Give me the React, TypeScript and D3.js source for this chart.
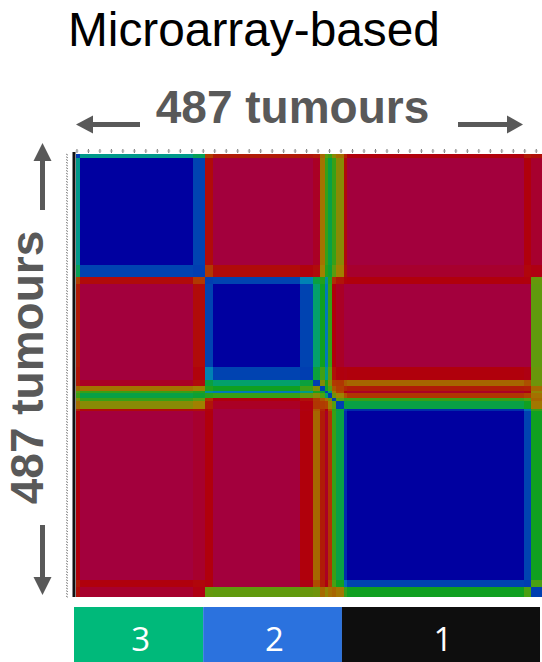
import React from "react";
import * as d3 from "d3";

// ---- Data -------------------------------------------------------------
// Ordered sample segments of the 487 tumours (consensus-matrix order)
const segNames = ["A", "B", "C", "D", "E", "F", "G", "H", "I", "J", "K", "L", "M0", "M", "N", "O"];
const segSizes = [4, 118, 13, 8, 91, 14, 7, 5, 3, 5, 4, 8, 3, 185, 8, 11];
// Affinity of each segment to clusters 3, 2 and 1
const aff3 = [0.65, 1, 0.85, 0.12, 0, 0, 0.05, 0.3, 0.45, 0.55, 0.45, 0.35, 0.12, 0, 0.1, 0.03];
const aff2 = [0.15, 0, 0.12, 0.85, 1, 0.85, 0.6, 0.5, 0.75, 0.45, 0.1, 0.05, 0, 0, 0, 0.4];
const aff1 = [0.1, 0, 0.03, 0.1, 0, 0.1, 0.28, 0.15, 0.05, 0.2, 0.45, 0.55, 0.9, 1, 0.85, 0.5];
// Cluster assignment per segment (colour bar)
const segCluster = ["3", "3", "3", "2", "2", "2", "2", "2", "2", "2", "2", "2", "1", "1", "1", "1"];
const clusters = ["3", "2", "1"];
const clusterColors = ["#00b97a", "#2b72de", "#0e0e0e"];
const nSamples = 487;
const axisLabel = "487 tumours";
const title = "Microarray-based";

// consensus colour scale (0 = never together, 1 = always together)
const cStops = [0, 0.1, 0.22, 0.32, 0.42, 0.5, 0.62, 0.74, 0.87, 1];
const cColors = ["#a3003d", "#b0000c", "#b04000", "#a08000", "#50a010", "#10a020", "#00a07a", "#0080b8", "#0038b0", "#0000a0"];

export default function App() {
  const W = 542, H = 662;
  const x = d3.scaleLinear().domain([0, nSamples]).range([76, 542]);
  const y = d3.scaleLinear().domain([0, nSamples]).range([154, 597]);
  const xBar = d3.scaleLinear().domain([0, nSamples]).range([74, 540]);
  const color = d3.scaleLinear<string>().domain(cStops).range(cColors).interpolate(d3.interpolateRgb).clamp(true);

  const starts: number[] = [];
  let acc = 0;
  segSizes.forEach((s) => { starts.push(acc); acc += s; });

  const dot = (i: number, j: number) =>
    Math.min(1, aff3[i] * aff3[j] + aff2[i] * aff2[j] + aff1[i] * aff1[j]);
  const value = (i: number, j: number) => (i === j ? Math.max(dot(i, j), 0.86) : dot(i, j));

  const cells: React.ReactNode[] = [];
  segNames.forEach((_, i) => {
    segNames.forEach((__, j) => {
      const x0 = x(starts[j]), x1 = x(starts[j] + segSizes[j]);
      const y0 = y(starts[i]), y1 = y(starts[i] + segSizes[i]);
      cells.push(
        <rect key={`c${i}-${j}`} x={x0} y={y0} width={x1 - x0 + 0.3} height={y1 - y0 + 0.3}
          fill={color(value(i, j))} />
      );
    });
  });

  // colour bar extents per cluster
  const bar = clusters.map((c, k) => {
    const idx = segCluster.map((sc, i) => (sc === c ? i : -1)).filter((i) => i >= 0);
    const s0 = starts[idx[0]];
    const s1 = starts[idx[idx.length - 1]] + segSizes[idx[idx.length - 1]];
    return { c, color: clusterColors[k], x0: xBar(s0), x1: xBar(s1) };
  });

  const topTicks = d3.range(0, nSamples, 12);
  const leftTicks = d3.range(0, nSamples, 3);
  const grey = "#595959";

  return (
    <svg width={W} height={H} style={{ position: "absolute", left: 0, top: 0 }}>
      <rect width={W} height={H} fill="#fff" />
      <text x={68} y={46} fontFamily="Liberation Sans, Arial, sans-serif" fontSize={47.8} fill="#000">{title}</text>

      {/* horizontal axis label with arrows */}
      <text x={292.5} y={123} textAnchor="middle" fontFamily="Liberation Sans, Arial, sans-serif"
        fontWeight="bold" fontSize={46} fill={grey}>{axisLabel}</text>
      <line x1={92} x2={140} y1={124.5} y2={124.5} stroke={grey} strokeWidth={5} />
      <polygon points="76,124.5 93,115.5 93,133.5" fill={grey} />
      <line x1={458} x2={508} y1={124.5} y2={124.5} stroke={grey} strokeWidth={5} />
      <polygon points="523,124.5 507,115.5 507,133.5" fill={grey} />

      {/* vertical axis label with arrows */}
      <text transform="translate(43,367.5) rotate(-90)" textAnchor="middle"
        fontFamily="Liberation Sans, Arial, sans-serif" fontWeight="bold" fontSize={46} fill={grey}>{axisLabel}</text>
      <line x1={42.5} x2={42.5} y1={160} y2={210} stroke={grey} strokeWidth={5} />
      <polygon points="42.5,143 33.5,161 51.5,161" fill={grey} />
      <line x1={42.5} x2={42.5} y1={525} y2={578} stroke={grey} strokeWidth={5} />
      <polygon points="42.5,595 33.5,577 51.5,577" fill={grey} />

      {/* tiny sample labels */}
      {topTicks.map((t) => (
        <g key={`t${t}`}>
          <line x1={x(t + 1)} x2={x(t + 1)} y1={149} y2={153} stroke="#777" strokeWidth={1} />
          <line x1={x(t + 1) - 1.5} x2={x(t + 1) + 1.5} y1={151} y2={151} stroke="#aaa" strokeWidth={1} />
        </g>
      ))}
      {leftTicks.map((t) => (
        <line key={`l${t}`} x1={66} x2={68} y1={y(t)} y2={y(t) + 1.2} stroke="#888" strokeWidth={1} />
      ))}
      <rect x={72.5} y={152} width={3} height={445} fill="#111" />

      {/* consensus matrix */}
      <g shapeRendering="crispEdges">{cells}</g>

      {/* cluster colour bar */}
      <g>
        {bar.map((b) => (
          <g key={`b${b.c}`}>
            <rect x={b.x0} y={607} width={b.x1 - b.x0} height={55} fill={b.color} />
            <text x={(b.x0 + b.x1) / 2 + 2} y={651} textAnchor="middle" fontFamily="Open Sans, Noto Sans, sans-serif"
              fontSize={33} fill="#fff">{b.c}</text>
          </g>
        ))}
      </g>
    </svg>
  );
}
